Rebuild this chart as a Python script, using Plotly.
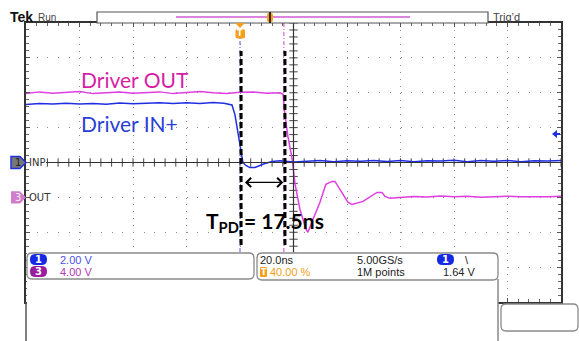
import plotly.graph_objects as go
import numpy as np

# Canal 1 (INP): tempo em ns, tensão em V
in_t = [-80, -75, -70, -65, -60, -55, -50, -45, -40, -35, -30, -25, -20, -15, -10,
        -6, -3, -1.9, -0.75, 0.4, 1.1, 2.2, 3.7, 5.6, 7.5, 9.3, 12, 15,
        20, 25, 30, 35, 40, 45, 50, 55, 60, 65, 70, 75, 80, 85, 90, 95, 100, 105, 110, 115, 120]
in_v = [3.32, 3.38, 3.35, 3.40, 3.36, 3.39, 3.34, 3.41, 3.37, 3.40, 3.43, 3.38, 3.42, 3.39, 3.44,
        3.40, 3.30, 2.75, 1.72, 0.63, 0.0, -0.17, -0.29, -0.29, -0.17, -0.06, 0.06, 0.10,
        0.03, 0.09, 0.12, 0.05, 0.10, 0.07, 0.12, 0.06, 0.11, 0.04, 0.10, 0.08, 0.13, 0.05,
        0.11, 0.07, 0.12, 0.04, 0.10, 0.09, 0.11]

# Canal 3 (OUT)
out_t = [-80, -75, -70, -65, -60, -55, -50, -45, -40, -35, -30, -25, -20, -15, -10, -5, 0, 5, 10, 15,
         16.1, 16.8, 17.9, 19.4, 20.6, 22.4, 24.7, 25.4, 27.3, 29.9, 32.1, 34.4, 35.5, 37.4,
         40.4, 41.9, 46.0, 51.2, 53.1, 54.2, 56.1, 59.8,
         65, 70, 75, 80, 85, 90, 95, 100, 105, 110, 115, 120]
out_v = [11.9, 12.1, 11.95, 12.05, 12.15, 11.9, 12.0, 12.1, 11.95, 12.05, 12.1, 11.9, 12.0, 12.15,
         12.0, 11.9, 12.05, 12.1, 11.95, 12.0,
         11.8, 9.5, 7.0, 4.58, 1.49, -1.38, -3.67, -4.01, -2.52, -0.57, 1.49, 1.83, 1.83, 0.92,
         -0.57, -0.8, -0.46, 0.57, 0.57, 0.11, -0.11, 0.0,
         0.1, 0.05, 0.15, 0.08, 0.12, 0.02, 0.1, 0.14, 0.06, 0.11, 0.08, 0.12]

ch1_scale, ch1_pos = 2.0, 0.0   # V/div, posição em div
ch3_scale, ch3_pos = 4.0, -1.0
trig_level = 1.64
cursors = [0.0, 16.4]       # cursores (ns)
tpd_lines = [0.4, 16.8]     # linhas tracejadas da anotação
t_range = [-80, 120]

W, H = 579, 341
L, R, T, B = 26, 561, 23, 302


def px(x):
    return (x - L) / (R - L)


def py(y):
    return (B - y) / (B - T)


def rounded(x0, y0, x1, y1, r):
    pts = [('M', x0 + r, y0), ('L', x1 - r, y0), ('Q', x1, y0, x1, y0 + r), ('L', x1, y1 - r),
           ('Q', x1, y1, x1 - r, y1), ('L', x0 + r, y1), ('Q', x0, y1, x0, y1 - r),
           ('L', x0, y0 + r), ('Q', x0, y0, x0 + r, y0)]
    s = ''
    for p in pts:
        s += p[0] + ' ' + ' '.join(
            f'{px(p[i]):.5f},{py(p[i + 1]):.5f}' for i in range(1, len(p), 2)) + ' '
    return s + 'Z'


def poly(points):
    return 'M ' + ' L '.join(f'{px(x):.5f},{py(y):.5f}' for x, y in points) + ' Z'


BLUE = '#1f2fe0'
MAG = '#e03ee0'
ORANGE = '#f5a01a'

fig = go.Figure()

# cruz central com marcas
hx = np.arange(-72, t_range[1] + 0.1, 4)
fig.add_trace(go.Scatter(x=hx, y=np.zeros(len(hx)),
                         mode='markers', marker=dict(symbol='line-ns', size=6,
                                                     line=dict(width=1, color='#444')),
                         hoverinfo='skip'))
fig.add_trace(go.Scatter(x=np.full(41, 20.0), y=np.arange(-4, 4.01, 0.2),
                         mode='markers', marker=dict(symbol='line-ew', size=6,
                                                     line=dict(width=1, color='#444')),
                         hoverinfo='skip'))

fig.add_trace(go.Scatter(x=out_t, y=np.array(out_v) / ch3_scale + ch3_pos, mode='lines',
                         line=dict(color=MAG, width=1.5)))
fig.add_trace(go.Scatter(x=in_t, y=np.array(in_v) / ch1_scale + ch1_pos, mode='lines',
                         line=dict(color=BLUE, width=1.5)))

shapes = []
shapes.append(dict(type='line', xref='x', yref='paper', x0=20, x1=20, y0=0, y1=1,
                   line=dict(color='#333', width=1.2)))
shapes.append(dict(type='line', xref='paper', yref='y', x0=px(46), x1=1, y0=0, y1=0,
                   line=dict(color='#333', width=1.2)))
# cursores
shapes.append(dict(type='line', xref='x', yref='paper', x0=cursors[0], x1=cursors[0],
                   y0=py(252), y1=py(38), line=dict(color='#4a5ae8', width=1, dash='4px,2px,1px,2px')))
shapes.append(dict(type='line', xref='x', yref='paper', x0=cursors[1], x1=cursors[1],
                   y0=py(252), y1=py(23), line=dict(color='#d040d0', width=1, dash='4px,2px,1px,2px')))
# linhas tracejadas pretas
for t in tpd_lines:
    shapes.append(dict(type='line', xref='x', yref='paper', x0=t, x1=t, y0=py(245), y1=py(51),
                       line=dict(color='black', width=3, dash='6px,3px')))

# painel inferior branco
shapes.append(dict(type='rect', xref='paper', yref='paper', x0=px(27), x1=px(498),
                   y0=py(350), y1=py(252.5), fillcolor='white', line=dict(width=0), layer='above'))
shapes.append(dict(type='line', xref='paper', yref='paper', x0=0, x1=0, y0=py(302), y1=py(345),
                   line=dict(color='#555', width=1.5), layer='above'))
shapes.append(dict(type='line', xref='paper', yref='paper', x0=px(498), x1=px(498), y0=py(279),
                   y1=py(345), line=dict(color='#888', width=1.5), layer='above'))
for box in [(27, 253, 254, 279), (257, 253, 498, 280), (501, 304, 578, 331)]:
    shapes.append(dict(type='path', xref='paper', yref='paper', path=rounded(*box, 5),
                       fillcolor='white', line=dict(color='#8a8a8a', width=1.3), layer='above'))

# barra do registro no topo
shapes.append(dict(type='rect', xref='paper', yref='paper', x0=px(97), x1=px(488), y0=py(23),
                   y1=py(12), fillcolor='white', line=dict(color='#555', width=1.2), layer='above'))
shapes.append(dict(type='line', xref='paper', yref='paper', x0=px(176), x1=px(410), y0=py(17),
                   y1=py(17), line=dict(color='#d05cd0', width=1.5), layer='above'))
shapes.append(dict(type='path', xref='paper', yref='paper', path=rounded(267, 13, 273, 22, 2),
                   fillcolor=ORANGE, line=dict(width=0), layer='above'))
shapes.append(dict(type='line', xref='paper', yref='paper', x0=px(270), x1=px(270), y0=py(23),
                   y1=py(12), line=dict(color='black', width=1.5), layer='above'))

# marcador de trigger
shapes.append(dict(type='path', xref='paper', yref='paper', path=poly([(235, 23), (245, 23), (240, 28)]),
                   fillcolor=ORANGE, line=dict(width=0), layer='above'))
shapes.append(dict(type='path', xref='paper', yref='paper', path=rounded(235.5, 29, 245, 38.5, 2),
                   fillcolor=ORANGE, line=dict(width=0), layer='above'))

# marcadores de canal à esquerda
y1p = B - (ch1_pos + 4) / 8 * (B - T)
y3p = B - (ch3_pos + 4) / 8 * (B - T)
shapes.append(dict(type='path', xref='paper', yref='paper',
                   path=poly([(11, y1p - 6), (20, y1p - 6), (26, y1p), (20, y1p + 6), (11, y1p + 6)]),
                   fillcolor='#777', line=dict(color=BLUE, width=1.5), layer='above'))
shapes.append(dict(type='path', xref='paper', yref='paper',
                   path=poly([(11, y3p - 6), (20, y3p - 6), (26, y3p), (20, y3p + 6), (11, y3p + 6)]),
                   fillcolor='#d27ccb', line=dict(width=0), layer='above'))

# nível de trigger (direita)
ytr = B - (trig_level / ch1_scale + ch1_pos + 4) / 8 * (B - T)
shapes.append(dict(type='path', xref='paper', yref='paper',
                   path=poly([(552, ytr), (557, ytr - 4), (557, ytr - 1), (560, ytr - 1),
                              (560, ytr + 1), (557, ytr + 1), (557, ytr + 4)]),
                   fillcolor=BLUE, line=dict(width=0), layer='above'))

# pílulas de canal
for x0, y0, col in [(30, 254, '#1428e6'), (30, 266, '#9a1d9f'), (437, 254, '#1428e6')]:
    shapes.append(dict(type='path', xref='paper', yref='paper', path=rounded(x0, y0, x0 + 17, y0 + 11, 5.5),
                       fillcolor=col, line=dict(width=0), layer='above'))
shapes.append(dict(type='path', xref='paper', yref='paper', path=rounded(260, 267, 267, 277, 1),
                   fillcolor=ORANGE, line=dict(width=0), layer='above'))

ann = []


def txt(x, y, s, size=11, color='#333', family='Liberation Sans', anchor='left', bold=False):
    if bold:
        s = f'<b>{s}</b>'
    ann.append(dict(x=px(x), y=py(y), xref='paper', yref='paper', text=s, showarrow=False,
                    xanchor=anchor, yanchor='middle', font=dict(size=size, color=color, family=family)))


txt(8, 17, 'Tek', 14, '#111', 'Liberation Sans', bold=True)
txt(36, 17.5, 'Run', 10, '#444', 'Liberation Sans')
txt(491, 17, 'Trig’d', 11, '#444')
txt(240.3, 33.8, 'T', 8, 'white', 'DejaVu Sans', 'center', bold=True)
txt(18, y1p, '1', 10, '#222', 'DejaVu Sans', 'center')
txt(18, y3p, '3', 10, '#eee', 'DejaVu Sans', 'center')
txt(27, y1p, 'INP', 10, '#333', 'DejaVu Sans')
txt(27, y3p, 'OUT', 10, '#333', 'DejaVu Sans')

txt(38.5, 259.8, '1', 10, 'white', 'DejaVu Sans', 'center', bold=True)
txt(38.5, 271.8, '3', 10, 'white', 'DejaVu Sans', 'center', bold=True)
txt(58, 260, '2.00 V', 11, '#4a50e8')
txt(58, 272, '4.00 V', 11, '#b23ab5')
txt(258, 260, '20.0ns', 11, '#222')
txt(263.5, 272, 'T', 8, 'white', 'DejaVu Sans', 'center', bold=True)
txt(268, 272, '40.00 %', 11, ORANGE)
txt(355, 260, '5.00GS/s', 11, '#222')
txt(355, 272, '1M points', 11, '#222')
txt(445.5, 259.8, '1', 10, 'white', 'DejaVu Sans', 'center', bold=True)
txt(463, 260, '\\', 11, '#222')
txt(441, 272, '1.64 V', 11, '#222')

txt(79, 79, 'Driver OUT', 21, '#d61fa6', 'Lato')
txt(79, 123, 'Driver IN+', 21, '#2a3fd6', 'Lato')
txt(265, 222, 'T<sub>PD</sub> = 17.5ns', 21, 'black', 'Lato', 'center', bold=True)

# seta de duas pontas entre as linhas
arrow_y = -0.57
ann.append(dict(x=tpd_lines[1] - 0.6, y=arrow_y, ax=tpd_lines[0] + 0.9, ay=arrow_y, xref='x', yref='y',
                axref='x', ayref='y', text='', showarrow=True, arrowhead=4, arrowside='end+start',
                arrowsize=1.3, arrowwidth=1.4, arrowcolor='black'))

fig.update_layout(
    width=W, height=H, margin=dict(l=L, r=W - R, t=T, b=H - B, autoexpand=False),
    paper_bgcolor='white', plot_bgcolor='white', showlegend=False,
    shapes=shapes, annotations=ann,
    xaxis=dict(range=t_range, tick0=-80, dtick=20, showgrid=True, gridcolor='#8c8c8c',
               griddash='1px,5.98px', gridwidth=1, showline=True, linecolor='#333', linewidth=1.5,
               mirror='ticks', ticks='inside', ticklen=4, tickcolor='#555', showticklabels=False,
               zeroline=False, minor=dict(tick0=-80, dtick=4, ticks='inside', ticklen=3,
                                          tickcolor='#666', showgrid=False)),
    yaxis=dict(range=[-4, 4], tick0=-4, dtick=1, showgrid=True, gridcolor='#8c8c8c',
               griddash='1px,9.7px', gridwidth=1, showline=True, linecolor='#333', linewidth=1.5,
               mirror='ticks', ticks='inside', ticklen=4, tickcolor='#555', showticklabels=False,
               zeroline=False, minor=dict(tick0=-4, dtick=0.2, ticks='inside', ticklen=3,
                                          tickcolor='#666', showgrid=False)),
)

fig.write_html("out.html", config={'displayModeBar': False},
               post_script="document.body.style.margin='0';")
